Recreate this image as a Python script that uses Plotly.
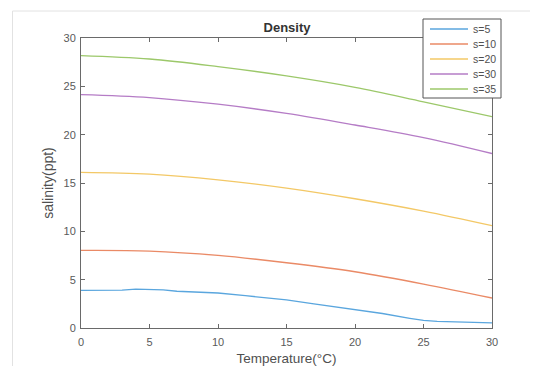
import plotly.graph_objects as go

temps = [0, 5, 10, 15, 20, 25, 30]
s35 = [28.18, 27.83, 27.04, 26.08, 24.90, 23.40, 21.87]
s30 = [24.15, 23.84, 23.15, 22.20, 21.00, 19.70, 18.05]
s20 = [16.09, 15.91, 15.33, 14.47, 13.37, 12.09, 10.58]
s10 = [8.03, 7.96, 7.51, 6.75, 5.82, 4.55, 3.10]
temps_s5 = [0, 3, 4, 5, 6, 7, 8, 9, 10, 12, 15, 17, 20, 22, 24, 25, 26, 27, 28, 30]
s5 = [3.90, 3.92, 4.03, 4.02, 3.95, 3.80, 3.75, 3.72, 3.62, 3.35, 2.90, 2.50, 1.90, 1.50, 1.00, 0.78, 0.68, 0.65, 0.58, 0.52]

names = ["s=5", "s=10", "s=20", "s=30", "s=35"]
colors = ["#5aa6de", "#ea8a66", "#f3c866", "#b57cc6", "#9cc86a"]

FONT = "Liberation Sans"
W, H = 530, 358          # page body adds an 8px offset
L, R, T, B = 73, 46, 30, 38
PW, PH = W - L - R, H - T - B


def px(x):  # figure pixel -> paper x
    return (x - L) / PW


def py(y):  # figure pixel -> paper y
    return 1 - (y - T) / PH


fig = go.Figure()
fig.add_trace(go.Scatter(x=temps_s5, y=s5, mode="lines", name=names[0],
                         line=dict(color=colors[0], width=1.3)))
for name, ys, c in zip(names[1:], [s10, s20, s30, s35], colors[1:]):
    fig.add_trace(go.Scatter(x=temps, y=ys, mode="lines", name=name,
                             line=dict(color=c, width=1.3, shape="spline")))

axis_col = "#6a6a6a"
common = dict(showgrid=False, zeroline=False, showline=True, linecolor=axis_col,
              linewidth=1, mirror="ticks", ticks="inside", ticklen=4, automargin=False,
              tickcolor=axis_col, tickfont=dict(family=FONT, size=11, color="#5a5a5a"))

fig.update_xaxes(range=[0, 30], tickvals=[0, 5, 10, 15, 20, 25, 30],
                 ticklabelstandoff=4,
                 title=dict(text="Temperature(°C)", standoff=9,
                            font=dict(family=FONT, size=13.5, color="#505050")),
                 **common)
fig.update_yaxes(range=[0, 30], tickvals=[0, 5, 10, 15, 20, 25, 30],
                 ticklabelstandoff=2,
                 title=dict(text="salinity(ppt)", standoff=6,
                            font=dict(family=FONT, size=14, color="#505050")),
                 **common)

fig.update_layout(
    width=W, height=H,
    margin=dict(l=L, r=R, t=T, b=B, autoexpand=False),
    paper_bgcolor="white", plot_bgcolor="white",
    title=dict(text="<b>Density</b>", x=px(279), xref="paper", xanchor="center",
               y=1 - 19 / H, yanchor="middle",
               font=dict(family=FONT, size=13, color="#333333")),
    showlegend=False,
)

# outer light frame of the figure window
fig.add_shape(type="rect", xref="paper", yref="paper",
              x0=px(4.5), x1=px(W + 20), y0=py(H + 20), y1=py(3),
              line=dict(color="#e2e2e2", width=1), layer="below")

# legend box, drawn from the series names and colours
fig.add_shape(type="rect", xref="paper", yref="paper",
              x0=px(415), x1=px(493), y0=py(90), y1=py(11),
              line=dict(color="#555555", width=1), fillcolor="white", layer="above")
for i, (name, c) in enumerate(zip(names, colors)):
    yc = 21 + i * 15
    fig.add_shape(type="line", xref="paper", yref="paper",
                  x0=px(422), x1=px(460), y0=py(yc), y1=py(yc),
                  line=dict(color=c, width=1.3), layer="above")
    fig.add_annotation(text=name, xref="paper", yref="paper",
                       x=px(463), y=py(yc), xanchor="left", yanchor="middle",
                       showarrow=False,
                       font=dict(family=FONT, size=10.5, color="#505050"))

fig.write_html("out.html")
